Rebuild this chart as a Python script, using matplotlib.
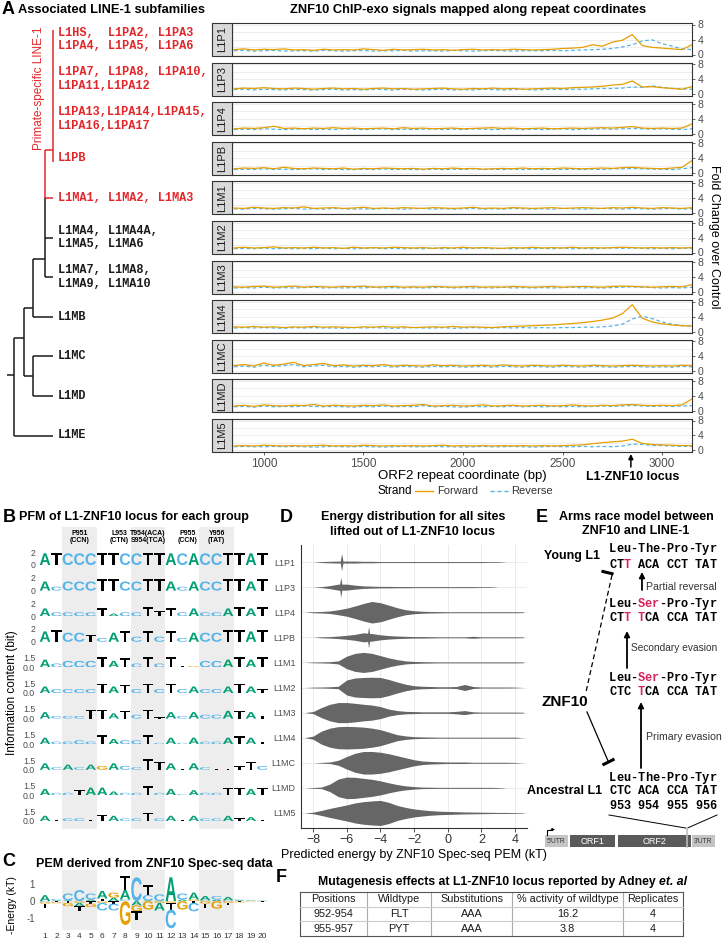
import numpy as np
import matplotlib
matplotlib.use("Agg")
import matplotlib.pyplot as plt
from matplotlib.textpath import TextPath
from matplotlib.font_manager import FontProperties
from matplotlib.patches import PathPatch, Rectangle
from matplotlib.transforms import Affine2D

# ======================= DATA =======================
groups = ['L1P1', 'L1P3', 'L1P4', 'L1PB', 'L1M1', 'L1M2', 'L1M3', 'L1M4', 'L1MC', 'L1MD', 'L1M5']

# ---- Panel A: ChIP-exo fold change along ORF2 coordinate (50 bp bins) ----
chip_coord = list(range(850, 3151, 50))
locus_coord = 2843

L1P1_fwd = [1.3, 1.5, 1.2, 1.4, 1.3, 1.5, 1.2, 1.3, 1.1, 1.4,
            1.2, 1.3, 1.2, 1.5, 1.3, 1.1, 1.4, 1.2, 1.3, 1.4,
            1.2, 1.3, 1.1, 1.3, 1.4, 1.2, 1.3, 1.2, 1.4, 1.3,
            1.2, 1.3, 1.4, 1.6, 1.7, 1.9, 2.6, 2.2, 3.3, 3.8,
            5.3, 2.4, 1.9, 1.7, 1.5, 1.3, 2.6]
L1P1_rev = [1.0, 1.1, 0.9, 1.0, 1.1, 0.9, 1.0, 1.0, 0.9, 1.1,
            1.0, 0.9, 1.0, 1.1, 0.9, 1.0, 1.0, 1.1, 0.9, 1.0,
            1.0, 0.9, 1.1, 1.0, 0.9, 1.0, 1.1, 1.0, 0.9, 1.0,
            1.0, 1.0, 1.1, 1.0, 1.1, 1.2, 1.3, 1.4, 1.6, 2.0,
            2.6, 3.6, 3.9, 2.9, 2.2, 1.5, 1.3]
L1P3_fwd = [1.4, 1.6, 1.5, 1.7, 1.5, 1.4, 1.6, 1.5, 1.3, 1.5,
            1.6, 1.4, 1.5, 1.3, 1.5, 1.6, 1.4, 1.5, 1.3, 1.4,
            1.5, 1.6, 1.4, 1.3, 1.5, 1.4, 1.6, 1.4, 1.5, 1.3,
            1.4, 1.5, 1.6, 1.5, 1.7, 1.8, 1.9, 2.1, 2.4, 2.6,
            3.5, 1.9, 2.0, 1.7, 1.5, 1.3, 2.0]
L1P3_rev = [1.2, 1.3, 1.1, 1.3, 1.2, 1.1, 1.3, 1.2, 1.1, 1.2,
            1.3, 1.1, 1.2, 1.1, 1.3, 1.2, 1.1, 1.3, 1.2, 1.1,
            1.2, 1.3, 1.1, 1.2, 1.1, 1.3, 1.2, 1.1, 1.2, 1.3,
            1.1, 1.2, 1.3, 1.2, 1.3, 1.3, 1.4, 1.5, 1.5, 1.6,
            1.9, 1.8, 2.2, 1.8, 1.5, 1.4, 1.3]
L1P4_fwd = [1.3, 1.5, 1.4, 1.6, 2.0, 1.4, 1.5, 1.3, 1.5, 1.4,
            1.6, 1.4, 1.5, 1.3, 1.4, 1.5, 1.3, 1.6, 1.4, 1.5,
            1.3, 1.4, 1.5, 1.3, 1.4, 1.5, 1.6, 1.4, 1.5, 1.3,
            1.4, 1.5, 1.3, 1.4, 1.5, 1.4, 1.5, 1.6, 1.5, 1.7,
            1.9, 1.5, 1.4, 1.5, 1.4, 1.5, 2.6]
L1P4_rev = [1.1, 1.2, 1.1, 1.3, 1.2, 1.1, 1.2, 1.3, 1.1, 1.2,
            1.1, 1.3, 1.2, 1.1, 1.2, 1.3, 1.1, 1.2, 1.1, 1.2,
            1.3, 1.1, 1.2, 1.1, 1.3, 1.2, 1.1, 1.2, 1.3, 1.1,
            1.2, 1.1, 1.2, 1.3, 1.1, 1.2, 1.2, 1.3, 1.2, 1.3,
            1.4, 1.3, 1.2, 1.3, 1.2, 1.1, 1.3]
L1PB_fwd = [1.2, 1.4, 1.3, 1.5, 1.2, 1.6, 1.3, 1.2, 1.4, 1.3,
            1.2, 1.4, 1.1, 1.3, 1.2, 1.4, 1.3, 1.2, 1.3, 1.1,
            1.3, 1.2, 1.4, 1.2, 1.3, 1.1, 1.2, 1.3, 1.2, 1.4,
            1.2, 1.3, 1.2, 1.4, 1.3, 1.2, 1.3, 1.4, 1.3, 1.5,
            1.6, 1.4, 1.3, 1.2, 1.4, 1.6, 3.4]
L1PB_rev = [1.0, 1.1, 1.0, 1.2, 1.0, 1.1, 1.0, 1.1, 1.2, 1.0,
            1.1, 1.0, 1.0, 1.1, 1.0, 1.2, 1.0, 1.1, 1.0, 1.0,
            1.1, 1.0, 1.1, 1.0, 1.2, 1.0, 1.1, 1.0, 1.1, 1.0,
            1.1, 1.0, 1.1, 1.0, 1.1, 1.0, 1.1, 1.0, 1.2, 1.2,
            1.3, 1.2, 1.1, 1.1, 1.0, 1.2, 1.5]
L1M1_fwd = [1.3, 1.2, 1.5, 1.3, 1.2, 1.4, 1.3, 1.6, 1.2, 1.3,
            1.4, 1.2, 1.3, 1.5, 1.2, 1.3, 1.2, 1.4, 1.3, 1.2,
            1.4, 1.3, 1.2, 1.3, 1.5, 1.2, 1.3, 1.2, 1.4, 1.3,
            1.2, 1.3, 1.4, 1.2, 1.3, 1.4, 1.3, 1.2, 1.4, 1.3,
            1.5, 1.3, 1.2, 1.4, 1.3, 1.2, 1.4]
L1M1_rev = [1.1, 1.0, 1.2, 1.1, 1.0, 1.1, 1.2, 1.0, 1.1, 1.0,
            1.2, 1.1, 1.0, 1.1, 1.0, 1.2, 1.1, 1.0, 1.1, 1.2,
            1.0, 1.1, 1.0, 1.1, 1.2, 1.0, 1.1, 1.0, 1.2, 1.1,
            1.0, 1.1, 1.0, 1.2, 1.1, 1.0, 1.1, 1.2, 1.1, 1.0,
            1.2, 1.1, 1.0, 1.1, 1.2, 1.0, 1.1]
L1M2_fwd = [1.2, 1.4, 1.2, 1.3, 1.5, 1.2, 1.3, 1.2, 1.4, 1.2,
            1.3, 1.1, 1.4, 1.2, 1.3, 1.2, 1.4, 1.3, 1.2, 1.3,
            1.1, 1.3, 1.2, 1.4, 1.2, 1.3, 1.2, 1.1, 1.3, 1.2,
            1.4, 1.2, 1.3, 1.2, 1.4, 1.2, 1.3, 1.2, 1.3, 1.4,
            1.3, 1.2, 1.3, 1.2, 1.3, 1.2, 1.3]
L1M2_rev = [1.0, 1.1, 1.0, 1.2, 1.0, 1.1, 1.0, 1.1, 1.0, 1.2,
            1.0, 1.1, 1.0, 1.1, 1.2, 1.0, 1.1, 1.0, 1.1, 1.0,
            1.2, 1.0, 1.1, 1.0, 1.1, 1.2, 1.0, 1.1, 1.0, 1.1,
            1.0, 1.1, 1.0, 1.2, 1.0, 1.1, 1.0, 1.1, 1.2, 1.1,
            1.2, 1.1, 1.0, 1.1, 1.0, 1.1, 1.2]
L1M3_fwd = [1.4, 1.3, 1.5, 1.6, 1.3, 1.4, 1.6, 1.3, 1.5, 1.4,
            1.3, 1.5, 1.4, 1.6, 1.3, 1.4, 1.5, 1.3, 1.4, 1.3,
            1.5, 1.4, 1.3, 1.4, 1.5, 1.3, 1.4, 1.3, 1.5, 1.4,
            1.3, 1.4, 1.5, 1.3, 1.4, 1.5, 1.4, 1.3, 1.5, 1.6,
            1.5, 1.4, 1.3, 1.4, 1.5, 1.4, 2.0]
L1M3_rev = [1.1, 1.2, 1.1, 1.3, 1.1, 1.2, 1.1, 1.2, 1.3, 1.1,
            1.2, 1.1, 1.2, 1.1, 1.3, 1.1, 1.2, 1.1, 1.2, 1.1,
            1.2, 1.3, 1.1, 1.2, 1.1, 1.2, 1.1, 1.3, 1.1, 1.2,
            1.1, 1.2, 1.1, 1.2, 1.3, 1.1, 1.2, 1.1, 1.2, 1.3,
            1.4, 1.3, 1.2, 1.1, 1.2, 1.1, 1.3]
L1M4_fwd = [1.3, 1.2, 1.4, 1.2, 1.3, 1.1, 1.3, 1.2, 1.4, 1.2,
            1.3, 1.2, 1.1, 1.3, 1.2, 1.4, 1.2, 1.3, 1.1, 1.2,
            1.3, 1.2, 1.4, 1.2, 1.3, 1.2, 1.1, 1.3, 1.4, 1.5,
            1.6, 1.7, 1.8, 2.0, 2.2, 2.4, 2.7, 3.1, 3.6, 4.8,
            7.2, 3.6, 2.6, 2.1, 1.8, 1.6, 1.5]
L1M4_rev = [1.0, 1.1, 1.0, 1.1, 1.0, 0.9, 1.1, 1.0, 1.1, 1.0,
            1.0, 0.9, 1.1, 1.0, 1.1, 1.0, 0.9, 1.0, 1.1, 1.0,
            1.0, 1.1, 0.9, 1.0, 1.1, 1.0, 1.0, 1.1, 1.0, 1.1,
            1.0, 1.1, 1.0, 1.1, 1.1, 1.2, 1.2, 1.3, 1.5, 2.0,
            3.4, 4.1, 3.5, 2.6, 2.0, 1.6, 1.4]
L1MC_fwd = [1.5, 1.8, 1.4, 2.2, 1.6, 1.9, 2.4, 1.5, 1.8, 2.1,
            1.5, 1.7, 1.4, 1.6, 1.5, 1.8, 1.4, 1.6, 1.5, 1.4,
            1.7, 1.5, 1.6, 1.4, 1.5, 1.6, 1.4, 1.7, 1.5, 1.4,
            1.6, 1.5, 1.4, 1.6, 1.5, 1.4, 1.6, 1.5, 1.4, 1.5,
            1.6, 1.5, 1.4, 1.5, 1.4, 1.6, 1.5]
L1MC_rev = [1.2, 1.4, 1.1, 1.6, 1.3, 1.5, 1.8, 1.2, 1.4, 1.6,
            1.2, 1.3, 1.1, 1.3, 1.2, 1.4, 1.1, 1.3, 1.2, 1.1,
            1.3, 1.2, 1.3, 1.1, 1.2, 1.3, 1.1, 1.3, 1.2, 1.1,
            1.3, 1.2, 1.1, 1.3, 1.2, 1.1, 1.3, 1.2, 1.1, 1.2,
            1.3, 1.2, 1.1, 1.2, 1.1, 1.3, 1.2]
L1MD_fwd = [1.3, 1.5, 1.2, 1.6, 1.4, 1.3, 1.5, 1.4, 1.7, 1.3,
            1.5, 1.4, 1.3, 1.5, 1.4, 1.6, 1.3, 1.4, 1.5, 1.7,
            1.3, 1.4, 1.5, 1.3, 1.4, 1.6, 1.3, 1.4, 1.5, 1.3,
            1.4, 1.5, 1.3, 1.4, 1.6, 1.4, 1.3, 1.5, 1.4, 1.6,
            1.7, 1.5, 1.4, 1.5, 1.4, 1.6, 3.2]
L1MD_rev = [1.1, 1.2, 1.0, 1.3, 1.1, 1.2, 1.1, 1.3, 1.2, 1.1,
            1.2, 1.1, 1.0, 1.2, 1.1, 1.3, 1.1, 1.2, 1.1, 1.4,
            1.1, 1.2, 1.1, 1.0, 1.2, 1.1, 1.2, 1.1, 1.3, 1.1,
            1.2, 1.1, 1.2, 1.1, 1.2, 1.1, 1.2, 1.3, 1.2, 1.3,
            1.5, 1.3, 1.2, 1.3, 1.2, 1.3, 1.4]
L1M5_fwd = [1.2, 1.3, 1.2, 1.4, 1.3, 1.2, 1.3, 1.2, 1.3, 1.4,
            1.2, 1.3, 1.2, 1.4, 1.3, 1.2, 1.3, 1.2, 1.3, 1.2,
            1.3, 1.4, 1.2, 1.3, 1.2, 1.3, 1.2, 1.3, 1.2, 1.3,
            1.2, 1.3, 1.2, 1.3, 1.4, 1.5, 1.8, 2.1, 2.3, 2.5,
            3.0, 1.9, 1.6, 1.5, 1.4, 1.3, 1.3]
L1M5_rev = [1.0, 1.1, 1.0, 1.0, 1.1, 1.0, 1.1, 1.0, 0.9, 1.0,
            1.1, 1.0, 1.0, 1.1, 1.0, 0.9, 1.0, 1.1, 1.0, 1.0,
            1.1, 1.0, 1.0, 0.9, 1.0, 1.1, 1.0, 1.0, 1.1, 1.0,
            0.9, 1.0, 1.1, 1.0, 1.0, 1.1, 1.0, 1.1, 1.0, 1.2,
            1.7, 1.6, 1.4, 1.3, 1.2, 1.1, 1.1]

# ---- Panel A: dendrogram of LINE-1 subfamilies ----
leaf_text = ["L1HS,  L1PA2, L1PA3\nL1PA4, L1PA5, L1PA6",
             "L1PA7, L1PA8, L1PA10,\nL1PA11,L1PA12",
             "L1PA13,L1PA14,L1PA15,\nL1PA16,L1PA17",
             "L1PB", "L1MA1, L1MA2, L1MA3",
             "L1MA4, L1MA4A,\nL1MA5, L1MA6",
             "L1MA7, L1MA8,\nL1MA9, L1MA10",
             "L1MB", "L1MC", "L1MD", "L1ME"]
leaf_primate = [True, True, True, True, True, False, False, False, False, False, False]
# tree segments: (depth0, leafpos0, depth1, leafpos1, primate)
tree_segments = [
    (53, -0.24, 53, 3.10, True), (45, 2.79, 53, 2.79, True),
    (45, 2.79, 45, 4.00, True), (45, 4.00, 53, 4.00, True),
    (45, 4.00, 45, 6.00, False), (45, 5.00, 53, 5.00, False),
    (45, 6.00, 53, 6.00, False), (33, 5.54, 45, 5.54, False),
    (33, 5.54, 33, 7.00, False), (33, 7.00, 53, 7.00, False),
    (24, 6.78, 33, 6.78, False), (33, 8.00, 33, 9.00, False),
    (33, 8.00, 53, 8.00, False), (33, 9.00, 53, 9.00, False),
    (24, 8.50, 33, 8.50, False), (24, 6.78, 24, 8.50, False),
    (14, 7.54, 24, 7.54, False), (14, 7.54, 14, 10.00, False),
    (14, 10.00, 53, 10.00, False), (7, 8.47, 14, 8.47, False)]

# ---- Panel B: PFM logos (letters and heights, unit = 0.2 bit) ----
pfm_seq = ["ATCCCTTCCTTACACCTTAT", "AcCCCTTCCTTAcACCTTAT", "AccccTaccTtTcAccATAT",
           "ATCCTcATcTcTcACCTTAT", "AcCCCTATcTcTtgCCATAT", "AccccTATcTcTcAccATAt",
           "AcccTTATcTtAcAccATAt", "AccccTAccTcAcAccATAt", "AcAcAgAccTTAtActtTTc",
           "AccTAAaccTcAcAccTTAT", "AtcctTAccTcAtAccAtAt"]
pfm_height = ["99999999999999999999", "73777997799737779979", "63333623374636336767",
              "89775378484837779989", "63555857383811556868", "53333756373735335753",
              "52227746371525336652", "52232743371515225652", "52424353286515211363",
              "52246632272514226656", "41221542262414224231"]
pfm_max_tick = [2, 2, 2, 2, 1.5, 1.5, 1.5, 1.5, 1.5, 1.5, 1.5]
codon_notes = [(4, "P951\n(CCN)"), (7.5, "L953\n(CTN)"), (10, "T954(ACA)\nS954(TCA)"),
               (13.5, "P955\n(CCN)"), (16, "Y956\n(TAT)")]
shaded_cols = [(3, 5), (9, 11), (15, 17)]

# ---- Panel C: PEM (-energy, kT) ----
pem_A = [0.35, 0.05, 0.05, -0.20, 0.10, 0.45, 0.20, 0.55, -0.25, 0.05,
         -0.45, 1.40, 0.10, 0.40, 0.25, 0.10, 0.20, 0.05, 0.03, 0.02]
pem_C = [-0.05, 0.08, 0.40, 0.65, 0.35, -0.45, -0.40, 0.10, 1.40, 0.30,
         0.40, -1.10, 0.35, -0.50, 0.05, 0.20, 0.05, 0.05, 0.02, 0.02]
pem_G = [-0.10, -0.08, -0.20, -0.10, -0.20, -0.10, 0.30, -1.40, -0.35, -0.50,
         -0.10, -0.10, -0.50, 0.10, -0.15, -0.45, -0.10, -0.05, -0.03, -0.02]
pem_T = [-0.25, -0.05, -0.10, -0.30, -0.15, 0.15, -0.15, 0.85, -0.50, 0.60,
         0.00, -0.40, 0.00, -0.10, -0.25, 0.00, -0.10, -0.03, -0.02, -0.02]

# ---- Panel D: violin half-widths (fraction of row) on energy grid ----
energy_grid = [-8.5, -8.0, -7.5, -7.0, -6.5, -6.0, -5.5, -5.0, -4.5, -4.0, -3.5, -3.0, -2.5, -2.0,
               -1.5, -1.0, -0.5, 0.0, 0.5, 1.0, 1.5, 2.0, 2.5, 3.0, 3.5, 4.0, 4.5]
viol_L1P1 = [0, 0, 0.02, 0.03, 0.04, 0.04, 0.04, 0.03, 0.03, 0.02, 0.02, 0.02, 0.02, 0.02,
             0.02, 0.02, 0.02, 0.02, 0.02, 0.02, 0.02, 0.02, 0.015, 0.015, 0, 0, 0]
viol_L1P3 = [0, 0, 0.02, 0.06, 0.12, 0.12, 0.08, 0.05, 0.04, 0.03, 0.03, 0.025, 0.025, 0.02,
             0.02, 0.02, 0.02, 0.02, 0.02, 0.02, 0.02, 0.015, 0.015, 0, 0, 0, 0]
viol_L1P4 = [0, 0.02, 0.03, 0.05, 0.10, 0.16, 0.25, 0.35, 0.43, 0.38, 0.28, 0.18, 0.10, 0.06,
             0.04, 0.03, 0.025, 0.02, 0.02, 0.02, 0.02, 0.02, 0.02, 0.02, 0.02, 0.02, 0.015]
viol_L1PB = [0, 0, 0.02, 0.03, 0.05, 0.08, 0.12, 0.18, 0.15, 0.10, 0.07, 0.05, 0.04, 0.03,
             0.03, 0.025, 0.02, 0.02, 0.02, 0.02, 0.04, 0.02, 0.02, 0.02, 0.02, 0.02, 0.015]
viol_L1M1 = [0, 0.015, 0.02, 0.03, 0.06, 0.25, 0.36, 0.40, 0.36, 0.27, 0.18, 0.11, 0.06, 0.04,
             0.03, 0.025, 0.02, 0.02, 0.02, 0.02, 0.02, 0.02, 0.02, 0.02, 0.02, 0.02, 0.015]
viol_L1M2 = [0, 0.015, 0.02, 0.03, 0.05, 0.30, 0.38, 0.40, 0.41, 0.40, 0.32, 0.22, 0.13, 0.07,
             0.05, 0.04, 0.03, 0.03, 0.04, 0.12, 0.04, 0.02, 0.02, 0.02, 0.02, 0.015, 0]
viol_L1M3 = [0, 0.04, 0.20, 0.33, 0.40, 0.40, 0.37, 0.33, 0.30, 0.24, 0.14, 0.08, 0.05, 0.04,
             0.03, 0.03, 0.03, 0.03, 0.05, 0.08, 0.03, 0.02, 0.02, 0.02, 0.02, 0.02, 0.015]
viol_L1M4 = [0, 0.06, 0.26, 0.38, 0.44, 0.45, 0.44, 0.42, 0.38, 0.32, 0.22, 0.12, 0.07, 0.04,
             0.03, 0.025, 0.02, 0.02, 0.02, 0.02, 0.02, 0.02, 0.02, 0.02, 0.02, 0.02, 0]
viol_L1MC = [0, 0, 0.015, 0.03, 0.10, 0.25, 0.38, 0.45, 0.45, 0.42, 0.36, 0.28, 0.20, 0.12,
             0.07, 0.05, 0.04, 0.03, 0.03, 0.03, 0.02, 0.02, 0.02, 0.02, 0.02, 0.015, 0]
viol_L1MD = [0, 0.015, 0.03, 0.15, 0.35, 0.43, 0.42, 0.38, 0.34, 0.28, 0.20, 0.13, 0.08, 0.05,
             0.03, 0.025, 0.02, 0.02, 0.02, 0.02, 0.02, 0.02, 0.02, 0.015, 0, 0, 0]
viol_L1M5 = [0, 0.03, 0.10, 0.18, 0.25, 0.32, 0.40, 0.45, 0.48, 0.50, 0.42, 0.30, 0.22, 0.16,
             0.12, 0.09, 0.07, 0.06, 0.05, 0.04, 0.035, 0.03, 0.025, 0.02, 0.02, 0.015, 0.01]
viol_spikes = {'L1P1': (-6.3, 0.34), 'L1P3': (-6.35, 0.40), 'L1PB': (-4.7, 0.43)}

# ---- Panel F: table ----
tab_header = ['Positions', 'Wildtype', 'Substitutions', '% activity of wildtype', 'Replicates']
tab_row1 = ['952-954', 'FLT', 'AAA', '16.2', '4']
tab_row2 = ['955-957', 'PYT', 'AAA', '3.8', '4']

# ======================= FIGURE =======================
plt.rcParams['font.family'] = ['Liberation Sans', 'DejaVu Sans']
MONO = 'Liberation Mono'
ORANGE, SKY, GREEN = '#E69F00', '#56B4E9', '#009E73'
RED, PINK = '#E3262A', '#D8245C'
LOGO_COL = {'A': GREEN, 'C': SKY, 'G': ORANGE, 'T': '#000000'}

W, H = 723, 940
fig = plt.figure(figsize=(W / 100, H / 100), dpi=100)


def px_axes(x, y, w, h):
    return fig.add_axes([x / W, 1 - (y + h) / H, w / W, h / H])


fwd = {g: globals()[g + '_fwd'] for g in groups}
rev = {g: globals()[g + '_rev'] for g in groups}
viol = {g: globals()['viol_' + g] for g in groups}

# ---------------- Panel A: ChIP-exo tracks ----------------
ROW0, ROWSTEP, ROWH = 23, 39.6, 33
PX0, PW = 232, 460
XL = (840, 3150)
for i, g in enumerate(groups):
    top = ROW0 + i * ROWSTEP
    ax = px_axes(PX0, top, PW, ROWH)
    n = min(len(chip_coord), len(fwd[g]), len(rev[g]))
    ax.plot(chip_coord[:n], fwd[g][:n], color=ORANGE, lw=0.9, zorder=3)
    ax.plot(chip_coord[:n], rev[g][:n], color=SKY, lw=0.9, ls=(0, (3, 2)), zorder=2)
    ax.set_xlim(*XL)
    ax.set_ylim(-0.4, 8.4)
    ax.yaxis.tick_right()
    ax.set_yticks([0, 4, 8])
    ax.set_yticks([2, 6], minor=True)
    ax.tick_params(axis='y', which='major', labelsize=7.5, colors='#4d4d4d', length=2.5, width=0.6, pad=1.5)
    ax.tick_params(axis='y', which='minor', length=0)
    ax.grid(axis='y', which='both', color='#ebebeb', lw=0.6)
    ax.set_axisbelow(True)
    for s in ax.spines.values():
        s.set_color('#333333')
        s.set_linewidth(0.8)
    if i < len(groups) - 1:
        ax.set_xticks([])
    else:
        ax.set_xticks([1000, 1500, 2000, 2500, 3000])
        ax.tick_params(axis='x', labelsize=8.5, colors='#4d4d4d', length=2.5, width=0.6, pad=1.5)

# ---------------- Panel D: energy violins ----------------
axd = px_axes(301, 545, 226, 283)
axd.set_xlim(-8.71, 4.7)
axd.set_ylim(-0.6, 10.68)
for i, g in enumerate(groups):
    yc = len(groups) - 1 - i
    hw = np.array(viol[g])
    axd.fill_between(energy_grid, yc - hw, yc + hw, color='#666666', lw=0, zorder=3)
    if g in viol_spikes:
        e, h = viol_spikes[g]
        axd.fill_between([e - 0.09, e, e + 0.09], [yc, yc - h, yc], [yc, yc + h, yc],
                         color='#666666', lw=0, zorder=3)
axd.set_xticks([-8, -6, -4, -2, 0, 2, 4])
axd.set_yticks(range(len(groups)))
axd.set_yticklabels(groups[::-1])
axd.grid(True, color='#ebebeb', lw=0.7)
axd.set_axisbelow(True)
axd.spines['top'].set_visible(False)
axd.spines['right'].set_visible(False)
for s in ('left', 'bottom'):
    axd.spines[s].set_color('#333333')
    axd.spines[s].set_linewidth(0.8)
axd.tick_params(axis='y', labelsize=6.5, colors='#4d4d4d', length=0, pad=4)
axd.tick_params(axis='x', labelsize=9, colors='#333333', length=3, width=0.6, pad=1.5)
axd.set_xlabel('Predicted energy by ZNF10 Spec-seq PEM (kT)', fontsize=9, labelpad=2)

# ---------------- Logo helpers ----------------
fp_logo = FontProperties(family='Liberation Sans', weight='bold')
_glyph = {}


def draw_letter(ax, ch, x0, y0, w, h, color):
    if h <= 0.004:
        return
    key = ch.upper()
    if key not in _glyph:
        _glyph[key] = TextPath((0, 0), key, size=1, prop=fp_logo)
    tp = _glyph[key]
    ext = tp.get_extents()
    tr = Affine2D().translate(-ext.x0, -ext.y0).scale(w / ext.width, h / ext.height).translate(x0, y0)
    ax.add_patch(PathPatch(tr.transform_path(tp), fc=color, ec='none', lw=0))


LX0, LW = 39.3, 228.8
BITPX = 6.5
axb = px_axes(LX0, 527, LW, 302)
axb.set_xlim(0.5, 20.5)
axb.set_ylim(0, 1)
for a, b in shaded_cols:
    axb.axvspan(a - 0.5, b + 0.5, color='#ededed', lw=0)
axb.axis('off')

for r in range(len(pfm_seq)):
    base = 565 + r * 25.6
    hgt = 2.3 * BITPX
    ax = px_axes(LX0, base - hgt, LW, hgt)
    ax.patch.set_visible(False)
    ax.set_xlim(0.5, 20.5)
    ax.set_ylim(0, 2.3)
    for k, ch in enumerate(pfm_seq[r]):
        h = int(pfm_height[r][k]) * 0.2
        draw_letter(ax, ch, k + 1 - 0.46, 0, 0.92, h, LOGO_COL[ch.upper()])
    mt = pfm_max_tick[r]
    ax.set_yticks([0, mt])
    ax.set_yticklabels(['0', '2'] if mt == 2 else ['0.0', '1.5'])
    ax.set_xticks([])
    ax.tick_params(axis='y', labelsize=6.3, colors='#4d4d4d', length=0, pad=3)
    for s in ax.spines.values():
        s.set_visible(False)

# ---------------- Panel C: PEM logo ----------------
axc = px_axes(LX0, 870, LW, 60)
axc.set_xlim(0.5, 20.5)
axc.set_ylim(-1.7, 1.83)
for a, b in shaded_cols:
    axc.axvspan(a - 0.5, b + 0.5, color='#ededed', lw=0, zorder=0)
for k in range(20):
    vals = [('A', pem_A[k]), ('C', pem_C[k]), ('G', pem_G[k]), ('T', pem_T[k])]
    pos = sorted([v for v in vals if v[1] > 0], key=lambda t: t[1])
    y = 0.0
    for ch, v in pos:
        draw_letter(axc, ch, k + 1 - 0.46, y, 0.92, v, LOGO_COL[ch])
        y += v
    neg = sorted([v for v in vals if v[1] < 0], key=lambda t: -t[1])
    y = 0.0
    for ch, v in neg:
        draw_letter(axc, ch, k + 1 - 0.46, y + v, 0.92, -v, LOGO_COL[ch])
        y += v
axc.set_yticks([-1, 0, 1])
axc.set_yticklabels(['-1', '0', '1'])
axc.set_xticks(range(1, 21))
axc.tick_params(axis='y', labelsize=7, colors='#4d4d4d', length=0, pad=3)
axc.tick_params(axis='x', labelsize=6, colors='#333333', length=0, pad=2)
for s in axc.spines.values():
    s.set_visible(False)

# ---------------- Overlay (text, diagrams) ----------------
ov = fig.add_axes([0, 0, 1, 1])
ov.set_xlim(0, W)
ov.set_ylim(H, 0)
ov.axis('off')


def T(x, y, s, **kw):
    kw.setdefault('va', 'center')
    return ov.text(x, y, s, **kw)


# Panel A titles
T(2, 10, 'A', fontsize=13, weight='bold')
T(18, 10, 'Associated LINE-1 subfamilies', fontsize=9.3, weight='bold')
T(468, 10, 'ZNF10 ChIP-exo signals mapped along repeat coordinates', fontsize=9.3, weight='bold', ha='center')

for i, g in enumerate(groups):
    top = ROW0 + i * ROWSTEP
    ov.add_patch(Rectangle((212, top), 19.5, ROWH, fc='#d9d9d9', ec='#333333', lw=0.8))
    T(221.8, top + ROWH / 2, g, rotation=90, ha='center', fontsize=8, color='#1a1a1a')

T(714, 237, 'Fold Change over Control', rotation=270, ha='center', fontsize=9)
T(462, 476, 'ORF2 repeat coordinate (bp)', ha='center', fontsize=9.5)
lx = PX0 + (locus_coord - XL[0]) / (XL[1] - XL[0]) * PW
ov.annotate('', xy=(lx, 454), xytext=(lx, 467),
            arrowprops=dict(arrowstyle='-|>', color='black', lw=1.1, mutation_scale=7, shrinkA=0, shrinkB=0))
T(lx + 2, 477, 'L1-ZNF10 locus', ha='center', fontsize=9, weight='bold')
T(378, 491, 'Strand', fontsize=8.5)
ov.plot([415, 433], [491, 491], color=ORANGE, lw=1.0)
T(437, 491, 'Forward', fontsize=8, color='#333333')
ov.plot([490, 508], [491, 491], color=SKY, lw=1.0, ls=(0, (3, 2)))
T(511, 491, 'Reverse', fontsize=8, color='#333333')


def leaf_y(p):
    return ROW0 + ROWH / 2 + p * ROWSTEP


for x0, p0, x1, p1, prim in tree_segments:
    ov.plot([x0, x1], [leaf_y(p0), leaf_y(p1)], color=RED if prim else '#1a1a1a', lw=1.1,
            solid_capstyle='butt')
for i, s in enumerate(leaf_text):
    T(58, leaf_y(i), s, family=MONO, weight='bold', fontsize=8.6, linespacing=1.18,
      color=RED if leaf_primate[i] else '#1a1a1a')
T(39, 88, 'Primate-specific LINE-1', rotation=90, ha='center', fontsize=8.5, color=RED)

# Panel B titles
T(3, 517, 'B', fontsize=13, weight='bold')
T(134, 517, 'PFM of L1-ZNF10 locus for each group', ha='center', fontsize=9, weight='bold')
for pos, s in codon_notes:
    T(45 + (pos - 1) * 11.44, 537, s, ha='center', fontsize=5, weight='bold', linespacing=1.1)
T(12, 693, 'Information content (bit)', rotation=90, ha='center', fontsize=8.5)

# Panel C titles
T(2, 861, 'C', fontsize=13, weight='bold')
T(154, 864, 'PEM derived from ZNF10 Spec-seq data', ha='center', fontsize=9, weight='bold')
T(12, 905, '-Energy (kT)', rotation=90, ha='center', fontsize=7.5)

# Panel D titles
T(280, 517, 'D', fontsize=13, weight='bold')
T(413, 517, 'Energy distribution for all sites', ha='center', fontsize=9, weight='bold')
T(413, 532, 'lifted out of L1-ZNF10 locus', ha='center', fontsize=9, weight='bold')

# Panel E
T(536, 517, 'E', fontsize=13, weight='bold')
T(636, 517, 'Arms race model between', ha='center', fontsize=9, weight='bold')
T(636, 531, 'ZNF10 and LINE-1', ha='center', fontsize=9, weight='bold')

CX0, CFS = 609, 8.6
CW = 0.6 * CFS * 100 / 72


def codon_line(y, s, reds=()):
    for i, ch in enumerate(s):
        if ch != ' ':
            T(CX0 + i * CW, y, ch, family=MONO, weight='bold', fontsize=CFS,
              color=PINK if i in reds else 'black', ha='left')


codon_line(549, 'Leu-The-Pro-Tyr')
codon_line(565, 'CTT ACA CCT TAT', reds=(2,))
codon_line(604, 'Leu-Ser-Pro-Tyr', reds=(4, 5, 6))
codon_line(618, 'CTT TCA CCA TAT', reds=(2, 4))
codon_line(678, 'Leu-Ser-Pro-Tyr', reds=(4, 5, 6))
codon_line(692, 'CTC TCA CCA TAT', reds=(4,))
codon_line(778, 'Leu-The-Pro-Tyr')
codon_line(791, 'CTC ACA CCA TAT')
codon_line(806, '953 954 955 956')
T(600, 556, 'Young L1', ha='right', fontsize=9, weight='bold')
T(602, 791, 'Ancestral L1', ha='right', fontsize=9, weight='bold')
T(565, 702, 'ZNF10', ha='center', fontsize=11, weight='bold')

arr = dict(arrowstyle='-|>', color='black', lw=1.3, mutation_scale=8, shrinkA=0, shrinkB=0)
ov.annotate('', xy=(642, 572), xytext=(642, 590), arrowprops=arr)
T(646, 587, 'Partial reversal', fontsize=7.6, color='#333333')
ov.annotate('', xy=(627, 631), xytext=(627, 668), arrowprops=arr)
T(631, 648, 'Secondary evasion', fontsize=7.3, color='#333333')
ov.annotate('', xy=(641, 702), xytext=(641, 768), arrowprops=arr)
T(646, 737, 'Primary evasion', fontsize=7.6, color='#333333')
ov.plot([612, 586], [575, 692], color='black', lw=0.9, ls=(0, (4, 2.5)))
ov.plot([601.5, 613.5], [571.2, 574.0], color='black', lw=2.2, solid_capstyle='butt')
ov.plot([587, 608.5], [712, 762], color='black', lw=0.9)
ov.plot([602.5, 614.5], [765, 759], color='black', lw=2.2, solid_capstyle='butt')
ov.plot([609, 685.5], [815, 828], color='black', lw=0.7)
ov.plot([717, 687.5], [815, 828], color='black', lw=0.7)
ov.add_patch(Rectangle((545, 835), 23, 12, fc='#c4c4c4', ec='none'))
ov.add_patch(Rectangle((570, 835), 45, 12, fc='#5a5a5a', ec='none'))
ov.add_patch(Rectangle((618, 835), 73, 12, fc='#5a5a5a', ec='none'))
ov.add_patch(Rectangle((692, 835), 23, 12, fc='#c4c4c4', ec='none'))
ov.plot([686.5, 686.5], [828, 847], color='#bdbdbd', lw=1.2)
T(556.5, 841.5, "5'UTR", ha='center', fontsize=4.8, color='#333333')
T(592.5, 841.5, 'ORF1', ha='center', fontsize=6.5, color='white')
T(654.5, 841.5, 'ORF2', ha='center', fontsize=6.5, color='white')
T(703.5, 841.5, "3'UTR", ha='center', fontsize=4.8, color='#333333')
ov.plot([547, 547, 552], [835, 829.5, 829.5], color='black', lw=0.8)
ov.annotate('', xy=(555, 829.5), xytext=(551, 829.5),
            arrowprops=dict(arrowstyle='-|>', color='black', lw=0.6, mutation_scale=4, shrinkA=0, shrinkB=0))

# Panel F
T(276, 877, 'F', fontsize=13, weight='bold')
T(659, 882, 'Mutagenesis effects at L1-ZNF10 locus reported by Adney ', ha='right', fontsize=8.8, weight='bold')
T(659, 882, 'et. al', ha='left', fontsize=8.8, weight='bold', style='italic')
col_edges = [300, 367, 431, 512, 623, 683]
row_edges = [892, 907, 921, 936]
for j, x in enumerate(col_edges):
    ov.plot([x, x], [row_edges[0], row_edges[-1]], color='#555555' if j in (0, 5) else '#aaaaaa', lw=0.8)
for j, y in enumerate(row_edges):
    ov.plot([col_edges[0], col_edges[-1]], [y, y], color='#555555' if j in (0, 3) else '#cccccc', lw=0.8)
for ri, row in enumerate([tab_header, tab_row1, tab_row2]):
    yc = (row_edges[ri] + row_edges[ri + 1]) / 2
    for ci, s in enumerate(row):
        T((col_edges[ci] + col_edges[ci + 1]) / 2, yc, s, ha='center', fontsize=7.8, color='#1a1a1a')

fig.savefig('out.png', dpi=100)
